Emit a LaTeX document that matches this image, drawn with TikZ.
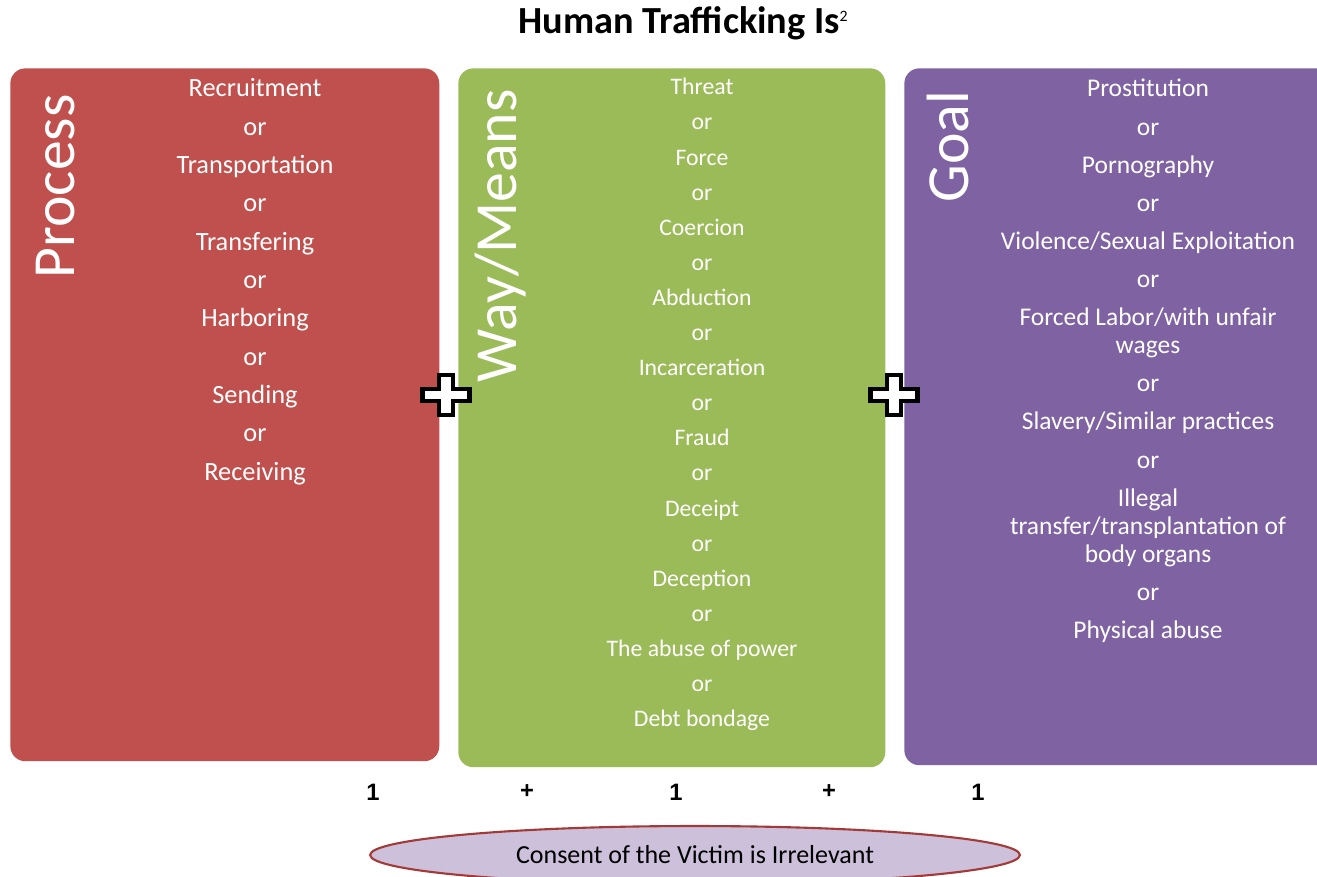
\documentclass[tikz,border=0pt]{standalone}
\usepackage{fontspec}
\setmainfont{Carlito}
\newfontfamily\arialfont{Liberation Sans}
\usetikzlibrary{positioning, calc, shapes.geometric}
\definecolor{procred}{HTML}{C0504D}
\definecolor{meansgreen}{HTML}{9BBB59}
\definecolor{goalpurple}{HTML}{7F62A1}
\definecolor{consentfill}{HTML}{CCC0DA}
\definecolor{consentline}{HTML}{A33A37}
\tikzset{
    column/.style={
        rectangle,
        rounded corners=0.3cm,
        draw=none,
        anchor=north west,
        inner sep=0pt
    },
    heading/.style={
        rotate=90,
        text=white,
        inner sep=0pt,
        font=\fontsize{34}{40}\selectfont
    },
    items/.style={
        anchor=north,
        align=center,
        text=white,
        inner sep=0pt
    },
    score/.style={
        inner sep=0pt,
        font=\arialfont\bfseries\fontsize{13.5}{15}\selectfont
    },
    plussign/.style={
        draw=black,
        line width=2.3pt,
        line join=miter,
        fill=white
    }
}

\begin{document}
\begin{tikzpicture}[x=0.02cm, y=-0.02cm]
\useasboundingbox (0,0) rectangle (1317,876);
\clip (0,0) rectangle (1317,876);

% Title
\node[anchor=base, inner sep=0pt, font=\bfseries\fontsize{21.8}{24}\selectfont] (title) at (683,33)
    {Human Trafficking Is\raisebox{6.5pt}{\mdseries\fontsize{9}{9}\selectfont 2}};

% Process column
\node[column, fill=procred, minimum width=8.58cm, minimum height=13.86cm] (proc) at (10,68) {};
\node[heading] (procHead) at (55.5,186.5) {Process};
\node[items, font=\fontsize{15}{21.8}\selectfont] (procItems) at (255,78.5) {
    Recruitment\\or\\Transportation\\or\\Transfering\\or\\
    Harboring\\or\\Sending\\or\\Receiving
};

% Way/Means column
\node[column, fill=meansgreen, minimum width=8.54cm, minimum height=13.98cm] (means) at (458,68) {};
\node[heading] (meansHead) at (501,236) {Way/Means};
\node[items, font=\fontsize{13.5}{19.98}\selectfont] (meansItems) at (702,78) {
    Threat\\or\\Force\\or\\Coercion\\or\\Abduction\\or\\Incarceration\\or\\
    Fraud\\or\\Deceipt\\or\\Deception\\or\\The abuse of power\\or\\Debt bondage
};

% Goal column
\node[column, fill=goalpurple, minimum width=9cm, minimum height=13.94cm] (goal) at (904,68) {};
\node[heading] (goalHead) at (947.5,146.5) {Goal};
\node[items, font=\fontsize{14.5}{21.7}\selectfont] (goalItems) at (1148,79) {
    Prostitution\\or\\Pornography\\or\\Violence/Sexual Exploitation\\or\\
    Forced Labor/with unfair\\[-5.8pt]wages\\or\\Slavery/Similar practices\\or\\
    Illegal\\[-5.8pt]transfer/transplantation of\\[-5.8pt]body organs\\or\\Physical abuse
};

% Plus signs between the columns
\foreach \c in {(446,395), (894,395)}
    \draw[plussign, shift={\c}] (-7,-20) -- (7,-20) -- (7,-6) -- (23.5,-6) -- (23.5,6)
        -- (7,6) -- (7,20) -- (-7,20) -- (-7,6) -- (-23.5,6) -- (-23.5,-6) -- (-7,-6) -- cycle;

% Scores
\node[score] (s1) at (373,792) {1};
\node[score] (s2) at (527,792) {+};
\node[score] (s3) at (676,792) {1};
\node[score] (s4) at (829,792) {+};
\node[score] (s5) at (978,792) {1};

% Consent
\node[ellipse, draw=consentline, fill=consentfill, line width=1.2pt,
    minimum width=13cm, minimum height=1.16cm, inner sep=0pt,
    font=\fontsize{14.8}{16}\selectfont] (consent) at (695,855)
    {Consent of the Victim is Irrelevant};

\end{tikzpicture}
\end{document}
